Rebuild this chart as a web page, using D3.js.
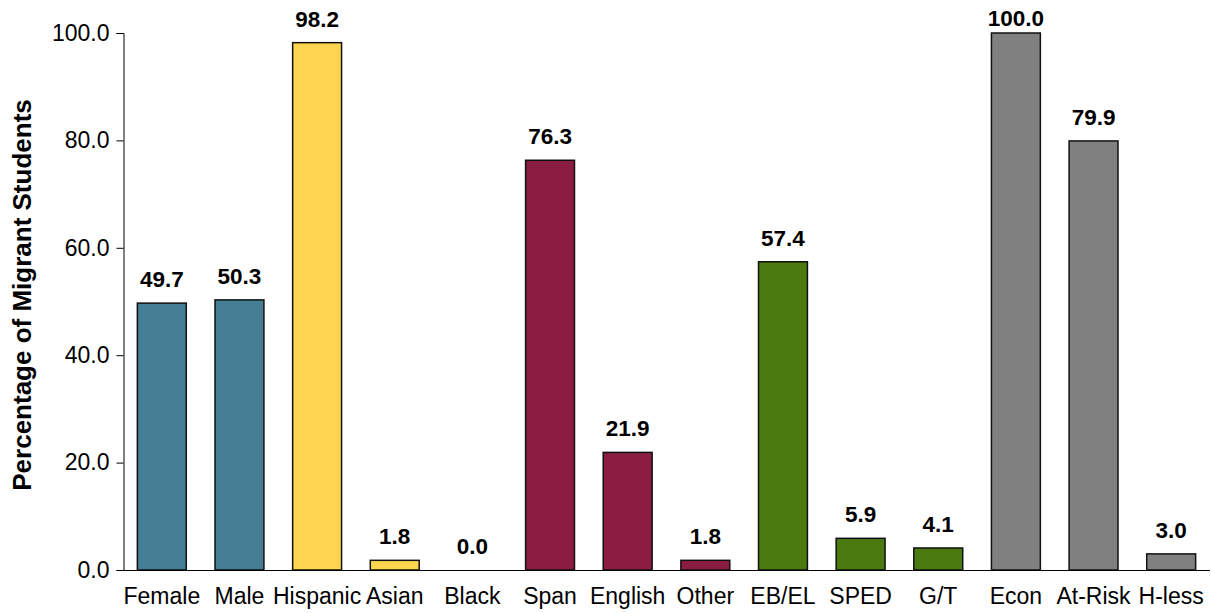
<!DOCTYPE html>
<html>
<head>
<meta charset="utf-8">
<script src="https://cdn.jsdelivr.net/npm/d3@7"></script>
<style>
  body { margin: 0; background: #fff; }
  text { font-family: "Liberation Sans", Arial, sans-serif; }
</style>
</head>
<body>
<div id="chart"></div>
<script>
// chart values
const categories = ['Female', 'Male', 'Hispanic', 'Asian', 'Black', 'Span', 'English', 'Other', 'EB/EL', 'SPED', 'G/T', 'Econ', 'At-Risk', 'H-less'];
const values = [49.7, 50.3, 98.2, 1.8, 0.0, 76.3, 21.9, 1.8, 57.4, 5.9, 4.1, 100.0, 79.9, 3.0];
const groups = ['gender', 'gender', 'eth', 'eth', 'eth', 'lang', 'lang', 'lang', 'prog', 'prog', 'prog', 'other', 'other', 'other'];
const yTicks = [0, 20, 40, 60, 80, 100];
const groupColors = {gender: '#457e95', eth: '#ffd54f', lang: '#8b1c42', prog: '#4a7a10', other: '#808080'};

const width = 1211, height = 613;
const margin = {top: 33, right: 1, bottom: 43, left: 123};

const svg = d3.select('#chart')
    .append('svg')
    .attr('width', width)
    .attr('height', height);

const x = d3.scaleBand()
    .domain(categories)
    .range([margin.left, width - margin.right])
    .paddingInner(0.37)
    .paddingOuter(0.185);

const y = d3.scaleLinear()
    .domain([0, 100])
    .range([height - margin.bottom, margin.top]);

// y axis
const yAxis = svg.append('g')
    .attr('transform', `translate(${margin.left + 0.5},0)`)
    .call(d3.axisLeft(y).tickValues(yTicks).tickFormat(d3.format('.1f')).tickSizeOuter(0).tickSize(7).tickPadding(7));
yAxis.select('.domain').attr('stroke', '#000');
yAxis.selectAll('text').style('font-size', '23px').attr('fill', '#000');

// bars
svg.selectAll('.bar')
    .data(categories)
    .enter().append('rect')
    .attr('class', 'bar')
    .attr('x', d => x(d))
    .attr('y', (d, i) => y(values[i]))
    .attr('width', x.bandwidth())
    .attr('height', (d, i) => y(0) - y(values[i]))
    .attr('fill', (d, i) => groupColors[groups[i]])
    .attr('stroke', (d, i) => values[i] > 0 ? '#111' : 'none')
    .attr('stroke-width', 1.5);

// x axis line
const xAxis = svg.append('g')
    .attr('transform', `translate(0,${y(0) + 0.5})`)
    .call(d3.axisBottom(x).tickSize(0).tickPadding(17));
xAxis.select('.domain').attr('stroke', '#000').attr('d', `M${margin.left},0H${width - margin.right}`);
xAxis.selectAll('text').style('font-size', '23px').attr('fill', '#000');

// value labels (kept inside the top edge, like the original)
svg.selectAll('.label')
    .data(categories)
    .enter().append('text')
    .attr('class', 'label')
    .attr('x', d => x(d) + x.bandwidth() / 2)
    .attr('y', (d, i) => Math.max(y(values[i]) - 16, 26))
    .style('text-anchor', 'middle')
    .style('font-size', '22.5px')
    .style('font-weight', 'bold')
    .text((d, i) => values[i].toFixed(1));

// y title
svg.append('text')
    .attr('transform', 'rotate(-90)')
    .attr('x', -295)
    .attr('y', 31)
    .style('text-anchor', 'middle')
    .style('font-size', '26px')
    .style('font-weight', 'bold')
    .text('Percentage of Migrant Students');
</script>
</body>
</html>
